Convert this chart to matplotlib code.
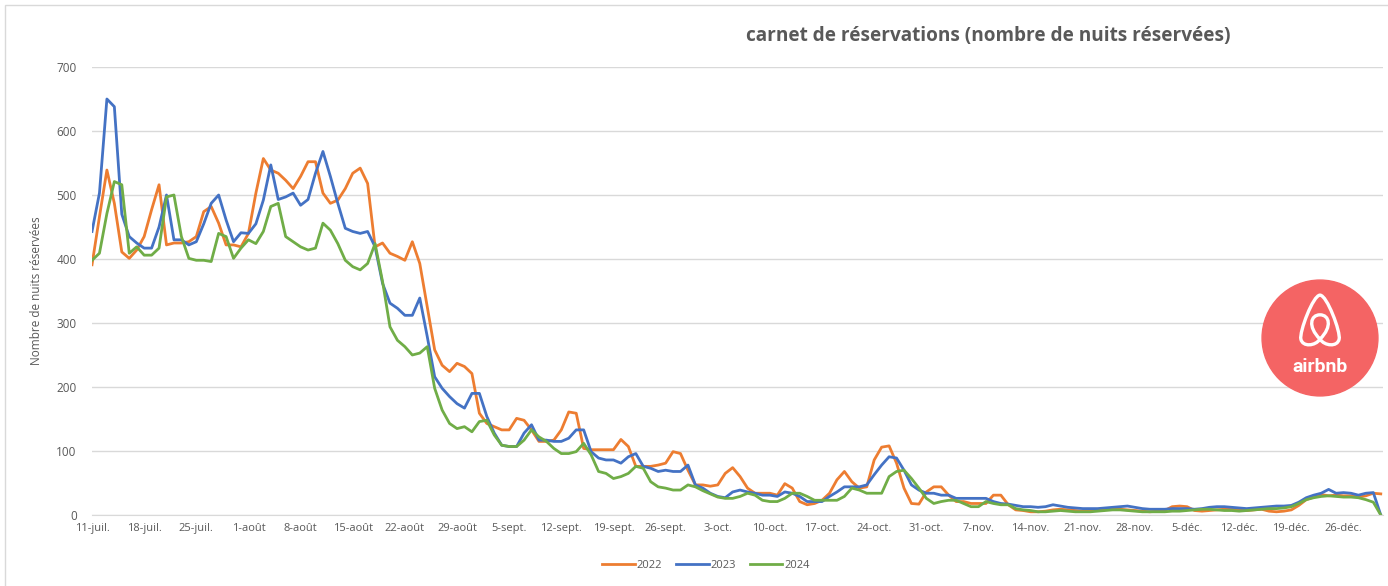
import matplotlib.pyplot as plt
import numpy as np
from matplotlib.patches import Circle, Rectangle, PathPatch
from matplotlib.path import Path

# one point per day, 11 July -> 31 December
tick_labels = ["11-juil.", "18-juil.", "25-juil.", "1-août", "8-août", "15-août",
               "22-août", "29-août", "5-sept.", "12-sept.", "19-sept.", "26-sept.",
               "3-oct.", "10-oct.", "17-oct.", "24-oct.", "31-oct.", "7-nov.",
               "14-nov.", "21-nov.", "28-nov.", "5-déc.", "12-déc.", "19-déc.",
               "26-déc."]
years = ["2022", "2023", "2024"]
colors = ["#ED7D31", "#4472C4", "#70AD47"]

nights_2022 = [
    391, 466, 539, 487, 411, 401, 414, 435, 477, 516, 422, 425, 425, 427, 435,
    474, 482, 456, 422, 422, 419, 440, 503, 557, 539, 534, 523, 510, 529, 552,
    552, 503, 487, 492, 510, 534, 542, 518, 419, 425, 409, 404, 398, 427, 393,
    326, 258, 234, 224, 237, 232, 221, 159, 143, 138, 133, 133, 151, 148, 133,
    115, 115, 117, 133, 161, 159, 104, 102, 102, 102, 102, 118, 107, 76, 76,
    76, 78, 81, 99, 96, 70, 47, 47, 45, 47, 65, 74, 60, 42, 34,
    34, 34, 31, 49, 42, 21, 16, 18, 23, 34, 55, 68, 52, 42, 44,
    86, 106, 108, 81, 42, 18, 17, 36, 44, 44, 31, 21, 21, 18, 18,
    18, 31, 31, 16, 8, 7, 5, 5, 6, 8, 9, 8, 7, 6, 7,
    8, 9, 10, 9, 8, 7, 6, 5, 6, 7, 13, 14, 13, 7, 6,
    7, 8, 9, 9, 8, 7, 8, 9, 6, 5, 6, 8, 15, 24, 28,
    32, 30, 31, 30, 30, 28, 30, 34, 33,
]
nights_2023 = [
    443, 503, 650, 638, 470, 435, 425, 417, 417, 450, 500, 430, 430, 422, 427,
    455, 487, 500, 461, 427, 441, 440, 455, 492, 547, 493, 497, 503, 484, 493,
    534, 568, 529, 487, 448, 443, 440, 443, 419, 362, 331, 323, 312, 312, 339,
    279, 216, 198, 185, 174, 167, 190, 190, 154, 128, 109, 107, 107, 128, 141,
    117, 117, 115, 115, 120, 133, 133, 99, 89, 86, 86, 81, 91, 96, 76,
    73, 68, 70, 68, 68, 78, 47, 42, 34, 29, 27, 36, 39, 36, 34,
    31, 31, 29, 36, 34, 29, 21, 21, 21, 29, 36, 44, 44, 44, 47,
    63, 78, 91, 89, 70, 47, 39, 34, 34, 31, 31, 26, 26, 26, 26,
    26, 21, 18, 17, 15, 13, 13, 12, 13, 16, 14, 12, 11, 10, 10,
    10, 11, 12, 13, 14, 12, 10, 9, 9, 9, 10, 10, 10, 9, 10,
    12, 13, 13, 12, 11, 10, 11, 12, 13, 14, 14, 15, 20, 27, 31,
    34, 40, 34, 35, 34, 31, 34, 35, 0,
]
nights_2024 = [
    398, 409, 471, 521, 516, 409, 419, 406, 406, 417, 497, 500, 435, 401, 398,
    398, 396, 440, 435, 401, 417, 430, 424, 443, 482, 487, 435, 427, 419, 414,
    417, 456, 445, 424, 398, 388, 383, 393, 424, 365, 294, 273, 263, 250, 253,
    263, 198, 164, 143, 135, 138, 130, 146, 148, 125, 109, 107, 107, 117, 133,
    122, 115, 104, 96, 96, 99, 112, 94, 68, 65, 57, 60, 65, 76, 73,
    52, 44, 42, 39, 39, 47, 44, 38, 33, 28, 26, 26, 29, 34, 31,
    23, 21, 21, 26, 34, 34, 29, 23, 23, 23, 23, 29, 42, 39, 34,
    34, 34, 60, 68, 70, 57, 42, 26, 18, 21, 23, 23, 18, 13, 13,
    21, 18, 16, 16, 10, 8, 7, 5, 5, 6, 7, 6, 5, 5, 5,
    6, 7, 8, 8, 7, 6, 5, 5, 5, 5, 6, 6, 7, 8, 9,
    9, 8, 7, 7, 6, 7, 8, 9, 10, 10, 11, 13, 18, 24, 27,
    29, 30, 29, 28, 28, 27, 24, 20, 0,
]
series = [nights_2022, nights_2023, nights_2024]

grey = "#595959"
plt.rcParams["font.family"] = ["Open Sans", "DejaVu Sans"]

fig = plt.figure(figsize=(13.88, 5.86), dpi=100)
ax = fig.add_axes([92 / 1388, 71 / 586, 1291 / 1388, 448 / 586])

days = np.arange(len(nights_2022))
for year, vals, c in zip(years, series, colors):
    ax.plot(days, vals, color=c, lw=2.0, label=year, solid_joinstyle="round")

ax.set_xlim(0, len(days) - 0.7)
ax.set_ylim(0, 700)
ax.set_yticks(range(0, 701, 100))
ax.set_xticks(days[::7])
ax.set_xticklabels(tick_labels)
ax.grid(axis="y", color="#d9d9d9", lw=1)
ax.set_axisbelow(True)
for s in ["top", "right", "left"]:
    ax.spines[s].set_visible(False)
ax.spines["bottom"].set_color("#d9d9d9")
ax.tick_params(length=0, colors=grey)
ax.tick_params(axis="y", pad=11, labelsize=8.5)
ax.tick_params(axis="x", pad=6, labelsize=8)
ax.set_ylabel("Nombre de nuits réservées", fontsize=8.5, color=grey)
ax.yaxis.set_label_coords(-49 / 1291, 0.5)

fig.text(988 / 1388, 1 - 36 / 586, "carnet de réservations (nombre de nuits réservées)",
         ha="center", va="center", fontsize=13.7, fontweight="bold", color=grey)

fig.legend(loc="center", bbox_to_anchor=(706 / 1388, 1 - 565 / 586), ncol=3,
           frameon=False, fontsize=8, handlelength=2.9, handletextpad=0.15,
           columnspacing=1.3, labelcolor=grey)

# airbnb badge
lax = fig.add_axes([(1320 - 62) / 1388, (586 - 338 - 62) / 586, 124 / 1388, 124 / 586])
lax.set_xlim(-1.07, 1.07)
lax.set_ylim(-1.07, 1.07)
lax.set_aspect("equal")
lax.axis("off")
lax.add_patch(Circle((0, 0), 1, color="#F46464"))
J = (0, -0.02)
verts = [J,
         (-0.08, -0.14), (-0.30, -0.16), (-0.33, -0.02),
         (-0.36, 0.10), (-0.12, 0.74), (0, 0.74),
         (0.12, 0.74), (0.36, 0.10), (0.33, -0.02),
         (0.30, -0.16), (0.08, -0.14), J,
         (-0.22, 0.20), (-0.16, 0.40), (0, 0.40),
         (0.16, 0.40), (0.22, 0.20), J]
codes = [Path.MOVETO] + [Path.CURVE4] * 18
lax.add_patch(PathPatch(Path(verts, codes), fill=False, ec="white", lw=2.4,
                        capstyle="round", joinstyle="round"))
lax.text(0, -0.5, "airbnb", ha="center", va="center", color="white",
         fontsize=14, fontweight="bold", family="Roboto")

fig.patches.append(Rectangle((5 / 1388, -0.1), 1.2, 1.1 - 5 / 586, transform=fig.transFigure,
                             fill=False, ec="#d9d9d9", lw=1))

fig.savefig("out.png", dpi=100)
